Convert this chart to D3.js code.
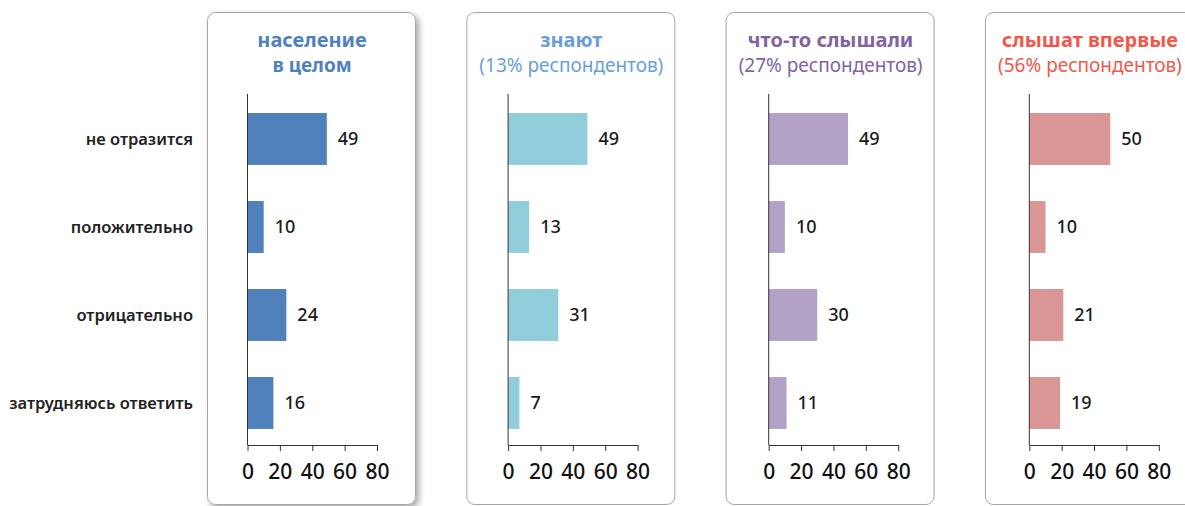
<!DOCTYPE html>
<html>
<head>
<meta charset="utf-8">
<script src="https://cdn.jsdelivr.net/npm/d3@7"></script>
<style>
  html, body { margin: 0; padding: 0; background: #fff; }
  svg { display: block; font-family: "Noto Sans", "Open Sans", sans-serif; }
</style>
</head>
<body>
<svg id="chart" width="1185" height="506"></svg>
<script>
// Answer categories, top to bottom.
const categories = ['не отразится', 'положительно', 'отрицательно', 'затрудняюсь ответить'];

// Panel headings: bold first line, second line (bold for the first panel only).
const titles = ['население', 'знают', 'что-то слышали', 'слышат впервые'];
const subtitles = ['в целом', '(13% респондентов)', '(27% респондентов)', '(56% респондентов)'];

// Series values, one array per panel, in category order.
const valuesTotal = [49, 10, 24, 16];
const valuesKnow = [49, 13, 31, 7];
const valuesHeard = [49, 10, 30, 11];
const valuesFirst = [50, 10, 21, 19];

const tickValues = [0, 20, 40, 60, 80];

// Per-panel styling.
const panels = [
  {values: valuesTotal, bar: '#4f81bd', title: '#4f81bd', subBold: true, shadow: true},
  {values: valuesKnow, bar: '#92cddc', title: '#6a9fd6', subBold: false, shadow: false},
  {values: valuesHeard, bar: '#b3a2c7', title: '#8064a2', subBold: false, shadow: false},
  {values: valuesFirst, bar: '#d99694', title: '#f0584c', subBold: false, shadow: false},
];

const svg = d3.select('#chart');

// Soft shadow for the first panel's frame.
const filter = svg.append('defs').append('filter')
  .attr('id', 'box-shadow')
  .attr('x', '-10%').attr('y', '-10%')
  .attr('width', '130%').attr('height', '130%');
filter.append('feDropShadow')
  .attr('dx', 3).attr('dy', 3)
  .attr('stdDeviation', 3)
  .attr('flood-color', '#000')
  .attr('flood-opacity', 0.35);

const y = d3.scaleBand()
  .domain(categories)
  .range([95, 447])
  .paddingInner(0.41)
  .paddingOuter(0.205);

const axisWidth = 129.5;
const x = d3.scaleLinear().domain([0, 80]).range([0, axisWidth]);

// Category labels on the left.
svg.append('g')
  .selectAll('text')
  .data(categories)
  .join('text')
  .attr('x', 193)
  .attr('y', (d) => y(d) + y.bandwidth() / 2)
  .attr('dy', '0.35em')
  .attr('text-anchor', 'end')
  .attr('font-size', 16.5)
  .attr('font-weight', 600)
  .attr('fill', '#222')
  .text((d) => d);

panels.forEach((p, i) => {
  const boxLeft = 207 + i * 259.3;
  const boxWidth = 208;
  const originX = 247.5 + i * 260.6;
  const cx = boxLeft + boxWidth / 2 + 1;

  svg.append('rect')
    .attr('x', boxLeft + 0.5)
    .attr('y', 12.5)
    .attr('width', boxWidth)
    .attr('height', 492)
    .attr('rx', 8)
    .attr('fill', '#fff')
    .attr('stroke', '#a6a6a6')
    .attr('stroke-width', 1)
    .attr('filter', p.shadow ? 'url(#box-shadow)' : null);

  svg.append('text')
    .attr('x', cx)
    .attr('y', 47)
    .attr('text-anchor', 'middle')
    .attr('font-size', 20)
    .attr('font-weight', 700)
    .attr('fill', p.title)
    .text(titles[i]);

  svg.append('text')
    .attr('x', cx)
    .attr('y', 72)
    .attr('text-anchor', 'middle')
    .attr('font-size', 19)
    .attr('font-weight', p.subBold ? 700 : 400)
    .attr('fill', p.title)
    .text(subtitles[i]);

  const g = svg.append('g').attr('transform', `translate(${originX},0)`);

  g.selectAll('rect.bar')
    .data(p.values)
    .join('rect')
    .attr('class', 'bar')
    .attr('x', 0)
    .attr('y', (d, j) => y(categories[j]))
    .attr('width', (d) => x(d))
    .attr('height', y.bandwidth())
    .attr('fill', p.bar);

  g.selectAll('text.value')
    .data(p.values)
    .join('text')
    .attr('class', 'value')
    .attr('x', (d) => x(d) + 11)
    .attr('y', (d, j) => y(categories[j]) + y.bandwidth() / 2)
    .attr('dy', '0.35em')
    .attr('font-size', 18)
    .attr('font-weight', 500)
    .attr('fill', '#1a1a1a')
    .text((d) => d);

  // Vertical category axis: line only.
  g.append('line')
    .attr('x1', 0).attr('x2', 0)
    .attr('y1', 94).attr('y2', 445)
    .attr('stroke', '#333')
    .attr('stroke-width', 1);

  const xAxis = g.append('g')
    .attr('transform', 'translate(0,445)')
    .call(d3.axisBottom(x).tickValues(tickValues).tickSize(6).tickSizeOuter(0).tickPadding(13));
  xAxis.select('.domain').attr('stroke', '#333');
  xAxis.selectAll('.tick line').attr('stroke', '#333');
  xAxis.selectAll('.tick text')
    .attr('font-size', 21)
    .attr('font-weight', 500)
    .attr('font-family', '"Noto Sans", "Open Sans", sans-serif')
    .attr('fill', '#111');
});
</script>
</body>
</html>
